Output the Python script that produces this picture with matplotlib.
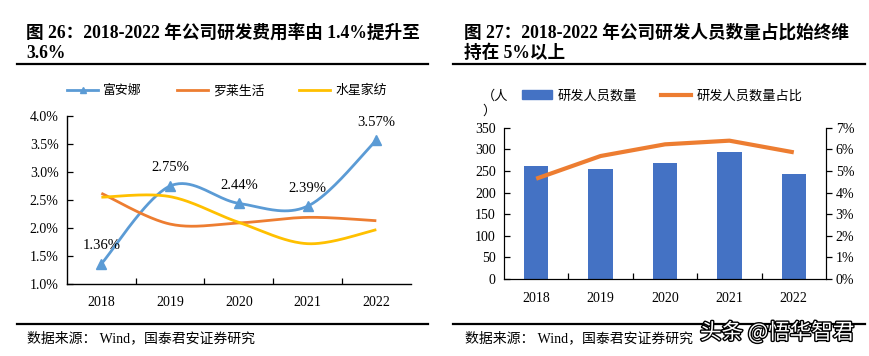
import numpy as np
import matplotlib
matplotlib.use("Agg")
import matplotlib.pyplot as plt
from matplotlib.lines import Line2D
from matplotlib.patches import Patch
import matplotlib.patheffects as pe

plt.rcParams['font.family'] = ['Liberation Serif', 'Noto Sans CJK SC', 'DejaVu Sans']
plt.rcParams['axes.unicode_minus'] = False

# ---------------- data ----------------
years = ['2018', '2019', '2020', '2021', '2022']
fuanna = [1.36, 2.75, 2.44, 2.39, 3.57]
luolai = [2.62, 2.07, 2.09, 2.19, 2.13]
shuixing = [2.55, 2.56, 2.10, 1.72, 1.97]
series_names = ['富安娜', '罗莱生活', '水星家纺']
fuanna_labels = ['1.36%', '2.75%', '2.44%', '2.39%', '3.57%']

rd_staff = [262, 254, 268, 294, 243]
rd_share = [4.64, 5.69, 6.23, 6.40, 5.86]
bar_name = '研发人员数量'
line_name = '研发人员数量占比'

title_left_1 = '图 26：2018-2022 年公司研发费用率由 1.4%提升至'
title_left_2 = '3.6%'
title_right_1 = '图 27：2018-2022 年公司研发人员数量占比始终维'
title_right_2 = '持在 5%以上'
source_text = '数据来源： Wind，国泰君安证券研究'
unit_text = '（人'
watermark = '头条 @悟华智君'

BLUE = '#5B9BD5'
ORANGE = '#ED7D31'
YELLOW = '#FFC000'
BAR = '#4472C4'


def smooth(xs, ys, n=40):
    """Excel-like smoothed line (cubic Bezier with Catmull-Rom tangents)."""
    xs = np.asarray(xs, float)
    ys = np.asarray(ys, float)
    px, py = [], []
    m = len(xs)
    for i in range(m - 1):
        x0, y0 = (xs[i - 1], ys[i - 1]) if i > 0 else (xs[i], ys[i])
        x1, y1 = xs[i], ys[i]
        x2, y2 = xs[i + 1], ys[i + 1]
        x3, y3 = (xs[i + 2], ys[i + 2]) if i + 2 < m else (xs[i + 1], ys[i + 1])
        c1x, c1y = x1 + (x2 - x0) / 6, y1 + (y2 - y0) / 6
        c2x, c2y = x2 - (x3 - x1) / 6, y2 - (y3 - y1) / 6
        t = np.linspace(0, 1, n)
        bx = (1 - t) ** 3 * x1 + 3 * (1 - t) ** 2 * t * c1x + 3 * (1 - t) * t ** 2 * c2x + t ** 3 * x2
        by = (1 - t) ** 3 * y1 + 3 * (1 - t) ** 2 * t * c1y + 3 * (1 - t) * t ** 2 * c2y + t ** 3 * y2
        px.extend(bx)
        py.extend(by)
    return np.array(px), np.array(py)


W, H = 869, 356
fig = plt.figure(figsize=(W / 100, H / 100), dpi=100)


def fx(px):
    return px / W


def fy(py):
    return 1 - py / H


# ---------------- titles & rules ----------------
for x0, t1, t2 in [(26, title_left_1, title_left_2), (464, title_right_1, title_right_2)]:
    fig.text(fx(x0), fy(33), t1, fontsize=12.7, fontweight='bold', ha='left', va='center')
    fig.text(fx(x0), fy(53), t2, fontsize=12.7, fontweight='bold', ha='left', va='center')

for xa, xb in [(17, 428), (453, 865)]:
    fig.add_artist(Line2D([fx(xa), fx(xb)], [fy(64), fy(64)], color='black', lw=1.6))
    fig.add_artist(Line2D([fx(xa), fx(xb)], [fy(324), fy(324)], color='black', lw=1.6))

fig.text(fx(27), fy(338), source_text, fontsize=10, ha='left', va='center')
fig.text(fx(465), fy(338), source_text, fontsize=10, ha='left', va='center')

# ---------------- left chart ----------------
axL = fig.add_axes([fx(67), fy(284), fx(410.7) - fx(67), fy(116) - fy(284)])
x = np.arange(len(years))
for vals, col, name, mk in [(fuanna, BLUE, series_names[0], '^'),
                            (luolai, ORANGE, series_names[1], None),
                            (shuixing, YELLOW, series_names[2], None)]:
    sx, sy = smooth(x, vals)
    axL.plot(sx, sy, color=col, lw=2, solid_capstyle='butt', zorder=3)
    if mk:
        axL.plot(x, vals, ls='none', marker=mk, ms=7, color=col, zorder=4)

for xi, v, lab in zip(x, fuanna, fuanna_labels):
    axL.annotate(lab, (xi, v), xytext=(0, 13), textcoords='offset points',
                 ha='center', va='center', fontsize=10.5)

axL.set_xlim(-0.5, 4.5)
axL.set_ylim(1.0, 4.0)
axL.set_yticks(np.arange(1.0, 4.01, 0.5))
axL.set_yticklabels([f'{v:.1f}%' for v in np.arange(1.0, 4.01, 0.5)])
axL.set_xticks(x)
axL.set_xticklabels(years)
axL.set_xticks(np.arange(0.5, 4.0, 1.0), minor=True)
axL.tick_params(axis='x', which='major', length=0, pad=9, labelsize=10)
axL.tick_params(axis='x', which='minor', direction='in', length=4, width=0.9)
axL.tick_params(axis='y', direction='in', length=4, width=0.9, pad=6, labelsize=10)
for s in ['top', 'right']:
    axL.spines[s].set_visible(False)
for s in ['left', 'bottom']:
    axL.spines[s].set_linewidth(1.0)

handlesL = [Line2D([], [], color=BLUE, lw=2, marker='^', ms=4),
            Line2D([], [], color=ORANGE, lw=2),
            Line2D([], [], color=YELLOW, lw=2)]
fig.legend(handlesL, series_names, loc='center', bbox_to_anchor=(fx(227), fy(91)),
           ncol=3, frameon=False, fontsize=9.3, handlelength=2.4, handletextpad=0.4,
           columnspacing=2.7, borderpad=0)

# ---------------- right chart ----------------
axR = fig.add_axes([fx(504), fy(279), fx(826) - fx(504), fy(127.7) - fy(279)])
axR.bar(x, rd_staff, width=0.38, color=BAR, zorder=2)
axR.set_xlim(-0.5, 4.5)
axR.set_ylim(0, 350)
axR.set_yticks(np.arange(0, 351, 50))
axR.set_xticks(x)
axR.set_xticklabels(years)
axR.set_xticks(np.arange(0.5, 4.0, 1.0), minor=True)
axR.tick_params(axis='x', which='major', length=0, pad=9, labelsize=10)
axR.tick_params(axis='x', which='minor', direction='in', length=4, width=0.9)
axR.tick_params(axis='y', direction='in', length=4, width=0.9, pad=6, labelsize=10)
axR.spines['top'].set_visible(False)

axR2 = axR.twinx()
axR2.plot(x, rd_share, color=ORANGE, lw=3, solid_capstyle='butt', solid_joinstyle='round', zorder=3)
axR2.set_ylim(0, 7)
axR2.set_yticks(np.arange(0, 8, 1))
axR2.set_yticklabels([f'{v}%' for v in range(0, 8)])
axR2.tick_params(axis='y', direction='out', length=4, width=0.9, pad=3, labelsize=10)
axR2.spines['top'].set_visible(False)

fig.text(fx(482), fy(96), unit_text, fontsize=9.5, ha='left', va='center')
fig.text(fx(482), fy(111), '）', fontsize=9.5, ha='left', va='center')

handlesR = [Patch(color=BAR), Line2D([], [], color=ORANGE, lw=3)]
fig.legend(handlesR, [bar_name, line_name], loc='center', bbox_to_anchor=(fx(662), fy(96)),
           ncol=2, frameon=False, fontsize=9.5, handlelength=2.3, handletextpad=0.4,
           handleheight=0.6, columnspacing=1.8, borderpad=0)

# watermark
fig.text(fx(700), fy(333), watermark, fontsize=15.5, color='white', ha='left', va='center',
         family=['Noto Sans CJK SC', 'DejaVu Sans'], zorder=10,
         path_effects=[pe.withStroke(linewidth=2, foreground='black')])

fig.savefig('out.png', dpi=100)
